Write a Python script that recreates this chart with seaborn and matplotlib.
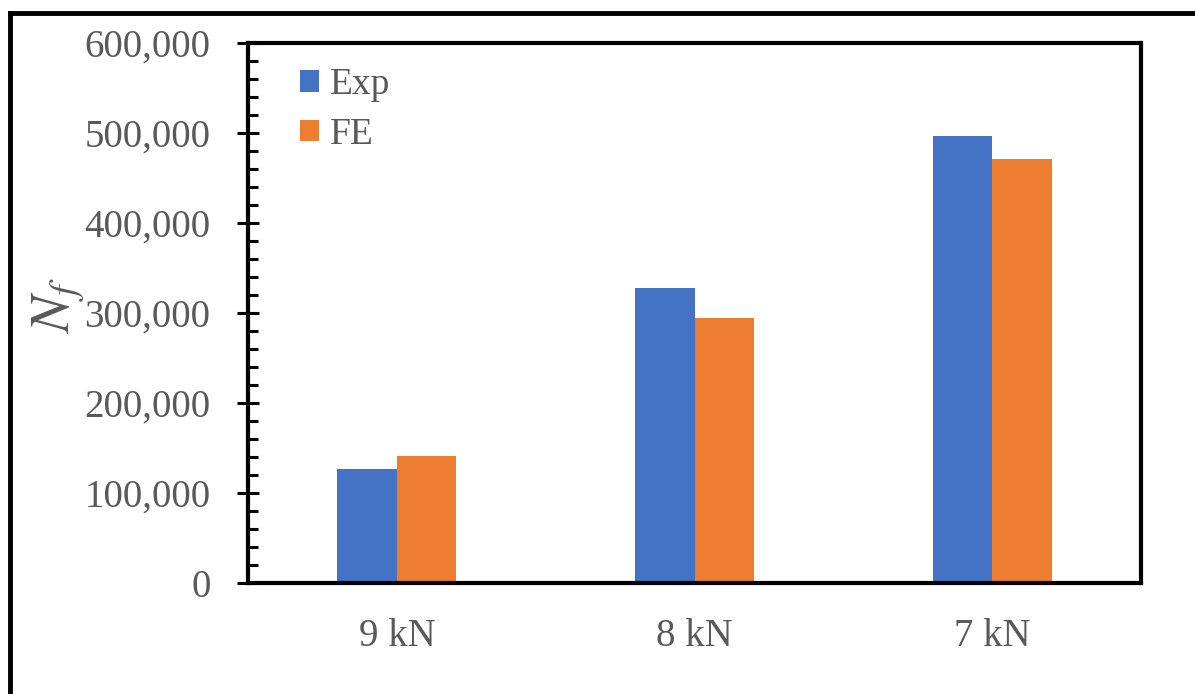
import pandas as pd
import numpy as np
import seaborn as sns
import matplotlib.pyplot as plt
from matplotlib.ticker import StrMethodFormatter, MultipleLocator
from matplotlib.lines import Line2D

loads = ['9 kN', '8 kN', '7 kN']
exp_vals = [127000, 327500, 496500]
fe_vals = [141000, 294500, 471000]
series = ['Exp', 'FE']
colors = ['#4472C4', '#ED7D31']

df = pd.DataFrame({
    'load': loads * 2,
    'Nf': exp_vals + fe_vals,
    'series': ['Exp'] * 3 + ['FE'] * 3,
})

sns.set_style('white')
plt.rcParams['font.family'] = ['Liberation Serif', 'DejaVu Serif']
plt.rcParams['mathtext.fontset'] = 'stix'
gray = '#595959'

fig = plt.figure(figsize=(11.95, 6.94), dpi=100)
ax = fig.add_axes([248 / 1195, 1 - 583 / 694, (1141 - 248) / 1195, (583 - 43) / 694])

sns.barplot(data=df, x='load', y='Nf', hue='series', palette=colors,
            width=0.4, saturation=1, ax=ax, order=loads, hue_order=series,
            linewidth=0)

ax.set_ylim(0, 600000)
ax.set_xlim(-0.5, 2.5)
ax.yaxis.set_major_locator(MultipleLocator(100000))
ax.yaxis.set_minor_locator(MultipleLocator(20000))
ax.yaxis.set_major_formatter(StrMethodFormatter('{x:,.0f}'))

for s in ax.spines.values():
    s.set_visible(True)
    s.set_color('black')
    s.set_linewidth(3)

ax.tick_params(axis='y', which='major', direction='inout', length=16, width=2.2,
               color='black', labelsize=28, labelcolor=gray, pad=19, left=True)
ax.tick_params(axis='y', which='minor', direction='in', length=7, width=2.2,
               color='black', left=True)
ax.tick_params(axis='x', which='both', length=0, labelsize=28, labelcolor=gray, pad=25)

ax.set_xlabel('')
ax.set_ylabel('$N_f$', fontsize=40, color=gray)
ax.yaxis.set_label_coords(-0.18, 0.513)

leg = ax.legend(loc='upper left', frameon=False, fontsize=27, handlelength=0.5,
                handleheight=0.5, handletextpad=0.3, labelspacing=0.4,
                borderaxespad=0, borderpad=0, bbox_to_anchor=(0.058, 0.954))
for t in leg.get_texts():
    t.set_color(gray)

# outer frame (left and top edges visible)
fig.add_artist(Line2D([10 / 1195, 10 / 1195], [0, 1 - 13 / 694], color='black',
                      lw=3.5, transform=fig.transFigure, solid_capstyle='projecting'))
fig.add_artist(Line2D([10 / 1195, 1], [1 - 13 / 694, 1 - 13 / 694], color='black',
                      lw=3.5, transform=fig.transFigure, solid_capstyle='projecting'))

fig.savefig('out.png', dpi=100)
